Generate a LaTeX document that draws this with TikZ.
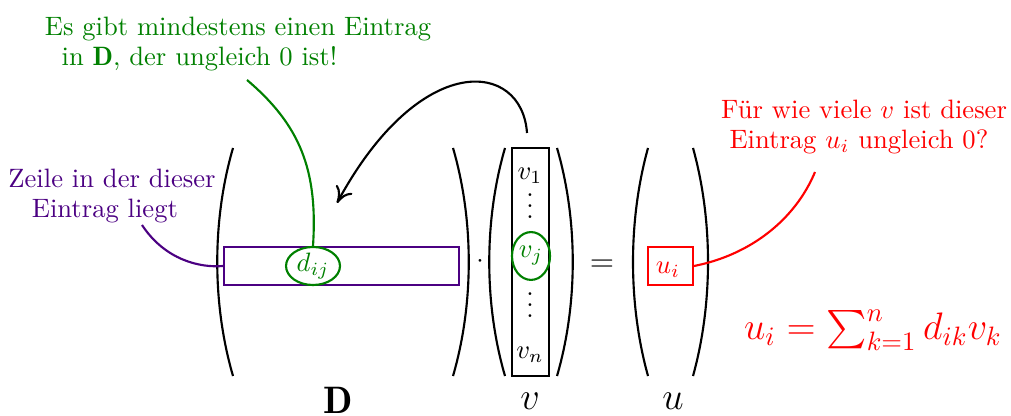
\documentclass[tikz,border=0pt]{standalone}
\usepackage{fontspec}
\usepackage{amsmath}
\usetikzlibrary{shapes.geometric,arrows.meta}
\definecolor{dgreen}{RGB}{0,128,0}
\definecolor{indig}{RGB}{75,0,130}
\begin{document}
\begin{tikzpicture}[x=0.376pt,y=-0.376pt,
  paren/.style={line width=0.8pt},
  conn/.style={line width=0.8pt},
  boxed/.style={draw,line width=0.8pt,inner sep=0pt},
  oval/.style={draw,ellipse,line width=0.8pt,inner sep=0pt},
  entry/.style={inner sep=0pt},
  note/.style={align=center,font=\fontsize{10}{11.3}\selectfont}]
\useasboundingbox (0,0) rectangle (1011,416);
% D matrix
\draw[paren] (233,148) .. controls (212,220) and (212,304) .. (233,376);
\draw[paren] (453,148) .. controls (474,220) and (474,304) .. (453,376);
\node[boxed,draw=indig,minimum width=88.4pt,minimum height=14.3pt] (row) at (341.5,266) {};
\node[oval,draw=dgreen,text=dgreen,minimum width=20.3pt,minimum height=14.3pt] (dij) at (313,266) {$d_{ij}$};
\node[entry] (dot) at (480,262) {$\cdot$};
% v vector
\draw[paren] (505,148) .. controls (484,220) and (484,304) .. (505,376);
\draw[paren] (557,148) .. controls (578,220) and (578,304) .. (557,376);
\node[boxed,minimum width=13.9pt,minimum height=85.7pt] (vbox) at (530.5,262) {};
\node[entry] (v1) at (530,176) {$v_1$};
\node[entry] (vd1) at (530,198) {$\vdots$};
\node[oval,draw=dgreen,text=dgreen,minimum width=14.3pt,minimum height=18pt] (vj) at (531,256) {$v_j$};
\node[entry] (vd2) at (530,297) {$\vdots$};
\node[entry] (vn) at (530,355) {$v_n$};
\node[entry] (eq) at (602,266) {\large $=$};
% u vector
\draw[paren] (648,148) .. controls (628,220) and (628,304) .. (648,376);
\draw[paren] (693,148) .. controls (713,220) and (713,304) .. (693,376);
\node[boxed,draw=red,minimum width=16.9pt,minimum height=14.3pt] (ubox) at (670.5,266) {};
\node[entry,text=red] (ui) at (668,270) {$u_i$};
% labels
\node[entry] (lD) at (338,400) {\Large $\mathbf{D}$};
\node[entry] (lv) at (530,401) {\Large $v$};
\node[entry] (lu) at (673,401) {\Large $u$};
\node[text=red] (formula) at (873,330) {\Large $u_i=\sum_{k=1}^{n} d_{ik}v_k$};
% annotations
\node[note,text=dgreen] (gtext) at (238,44) {Es gibt mindestens einen Eintrag\\in $\mathbf{D}$, der ungleich 0 ist!\hspace*{29pt}};
\node[note,text=indig] (ptext) at (112,196) {Zeile in der dieser\\Eintrag liegt\hspace*{5.3pt}};
\node[note,text=red] (rtext) at (864,127) {Für wie viele $v$ ist dieser\\Eintrag $u_i$ ungleich 0?\hspace*{3.8pt}};
\coordinate (gstart) at (247,80);
\coordinate (pstart) at (142,225);
\coordinate (rstart) at (815,172);
\coordinate (astart) at (527,133);
\coordinate (aend) at (337,203);
\draw[conn,dgreen] (gstart) .. controls (300,125) and (318,170) .. (dij.north);
\draw[conn,indig] (pstart) .. controls (165,260) and (200,268) .. (row.west);
\draw[conn,red] (ubox.east) .. controls (750,255) and (795,220) .. (rstart);
\draw[conn,-{To[length=6pt,width=7pt]}] (astart) .. controls (522,60) and (420,50) .. (aend);
\end{tikzpicture}
\end{document}
